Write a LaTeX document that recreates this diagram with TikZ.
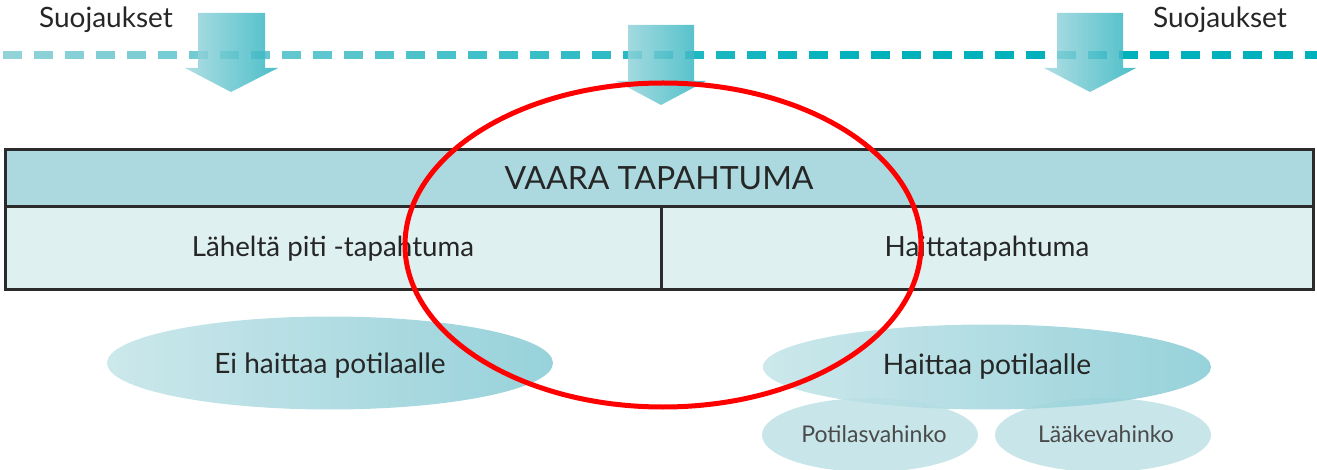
\documentclass[tikz,border=0pt]{standalone}
\usepackage{fontspec}
\setmainfont{Lato}
\usetikzlibrary{shapes.geometric,shadings}
\definecolor{dashA}{HTML}{92D2D9}
\definecolor{dashB}{HTML}{00B1BC}
\definecolor{arrA}{HTML}{A2D8DE}
\definecolor{arrB}{HTML}{2CB3BF}
\definecolor{hdrfill}{HTML}{ACD9DF}
\definecolor{rowfill}{HTML}{DFF0F0}
\definecolor{frame}{HTML}{2B2B2B}
\definecolor{txtc}{HTML}{262626}
\definecolor{txtlight}{HTML}{4A4A4A}
\definecolor{ellA}{HTML}{C6E5E9}
\definecolor{ellB}{HTML}{8CCDD6}
\definecolor{smallell}{HTML}{B5DEE3}
\begin{document}
\begin{tikzpicture}[x=1pt,y=-1pt,
  lbl/.style={text=txtc, inner sep=0pt},
  cell/.style={rectangle, draw=frame, line width=3pt, text=txtc, inner sep=0pt},
  bigell/.style={ellipse, inner sep=0pt, left color=ellA, right color=ellB, fill opacity=0.9},
  smallellipse/.style={ellipse, inner sep=0pt, fill=smallell, fill opacity=0.75,
     minimum width=216pt, minimum height=74pt},
  blockarrow/.style={left color=arrA, right color=arrB, fill opacity=0.85},
]
\useasboundingbox (0,0) rectangle (1317,470);
% dashed line with gradient colour
\foreach \i in {0,...,42}{
  \pgfmathsetmacro{\xa}{3+31*\i}
  \pgfmathsetmacro{\xb}{\xa+19}
  \pgfmathtruncatemacro{\p}{min(100,\xa/8.5)}
  \draw[line width=8pt, draw=dashB!\p!dashA] (\xa,55) -- (\xb,55);
}
% block arrows
\shade[blockarrow] (198,13) -- (265,13) -- (265,68) -- (278,68) -- (231,92) -- (185,68) -- (198,68) -- cycle;
\shade[blockarrow] (628,25) -- (694,25) -- (694,81) -- (706,81) -- (661,105) -- (616,81) -- (628,81) -- cycle;
\shade[blockarrow] (1057,13) -- (1123,13) -- (1123,68) -- (1136,68) -- (1090,92) -- (1044,68) -- (1057,68) -- cycle;
% labels
\node[lbl, font=\fontsize{28}{30}\selectfont] (sL) at (106,20) {Suojaukset};
\node[lbl, font=\fontsize{28}{30}\selectfont] (sR) at (1220,20) {Suojaukset};
% table
\node[cell, fill=hdrfill, minimum width=1308pt, minimum height=57pt, font=\fontsize{32}{36}\selectfont] (hdr) at (659,178.5) {VAARA TAPAHTUMA};
\node[cell, fill=rowfill, minimum width=656pt, minimum height=83pt, font=\fontsize{27.7}{30}\selectfont] (near) at (333,248.5) {Läheltä piti -tapahtuma};
\node[cell, fill=rowfill, minimum width=652pt, minimum height=83pt, font=\fontsize{27.8}{30}\selectfont] (harm) at (987,248.5) {Haittatapahtuma};
% ellipses
\node[bigell, minimum width=446pt, minimum height=93pt] (noharm) at (330,363) {};
\node[lbl, font=\fontsize{28}{30}\selectfont] (noharmtxt) at (330,366) {Ei haittaa potilaalle};
\node[smallellipse] (pat) at (870,435) {};
\node[smallellipse] (drug) at (1103,435) {};
\node[lbl, text=txtlight, font=\fontsize{23}{26}\selectfont] (pattxt) at (874,434) {Potilasvahinko};
\node[lbl, text=txtlight, font=\fontsize{23}{26}\selectfont] (drugtxt) at (1106,434) {Lääkevahinko};
\node[bigell, minimum width=448pt, minimum height=85pt] (yesharm) at (987,367) {};
\node[lbl, font=\fontsize{28.2}{30}\selectfont] (yesharmtxt) at (987,367) {Haittaa potilaalle};
% red focus ellipse
\node[ellipse, draw=red, line width=5pt, minimum width=516pt, minimum height=324pt, inner sep=0pt] (focus) at (663,245) {};
\end{tikzpicture}
\end{document}
